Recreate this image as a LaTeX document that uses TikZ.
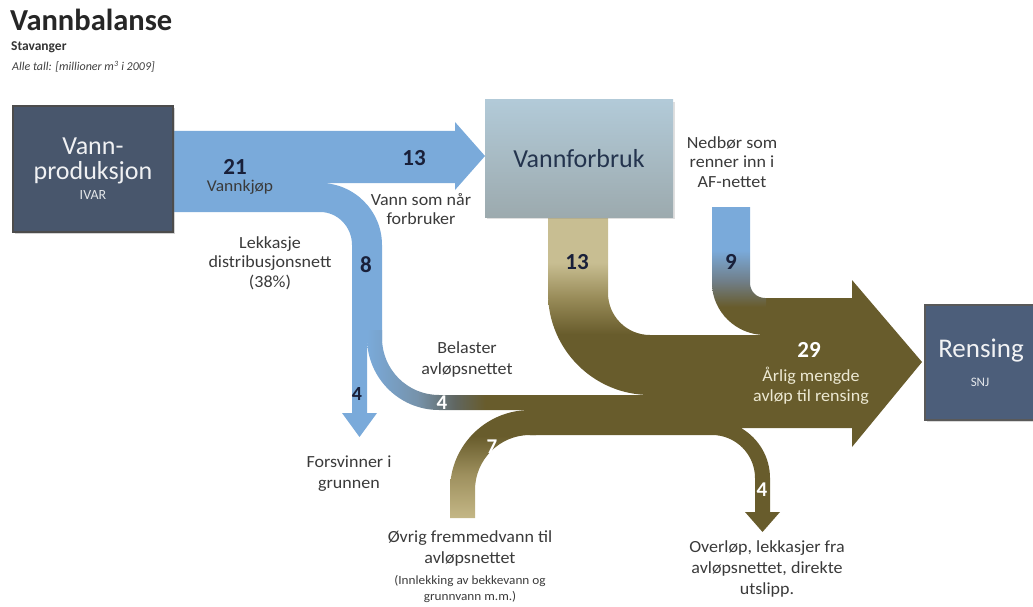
\documentclass[tikz,border=0pt]{standalone}
\usepackage{fontspec}
\setmainfont{Carlito}
\newfontfamily\lblfont{Carlito}[FakeStretch=1.06]
\usetikzlibrary{shadows}
\definecolor{flowblue}{RGB}{122,170,218}
\definecolor{flowolive}{RGB}{104,92,44}
\definecolor{flowkhaki}{RGB}{200,190,146}
\definecolor{kmidA}{RGB}{152,139,88}
\definecolor{ksevlow}{RGB}{196,183,134}
\definecolor{ksevmid}{RGB}{158,144,94}
\definecolor{ninemid}{RGB}{112,126,136}
\definecolor{fourmidA}{RGB}{118,146,170}
\definecolor{fourmidB}{RGB}{96,102,96}
\definecolor{boxdark}{RGB}{72,86,108}
\definecolor{boxren}{RGB}{76,94,122}
\definecolor{vfA}{RGB}{178,202,216}
\definecolor{vfB}{RGB}{156,170,174}
\definecolor{numnavy}{RGB}{25,32,58}
\definecolor{lblgray}{RGB}{58,58,58}
\definecolor{creamtxt}{RGB}{236,232,210}
\definecolor{vftxt}{RGB}{36,52,78}
\pgfdeclareverticalshading{shthirteen}{100bp}{color(0bp)=(flowolive); color(42bp)=(flowolive); color(52bp)=(kmidA); color(62bp)=(flowkhaki); color(100bp)=(flowkhaki)}
\pgfdeclareverticalshading{shseven}{100bp}{color(0bp)=(ksevlow); color(25bp)=(ksevlow); color(45bp)=(ksevmid); color(63bp)=(flowolive); color(100bp)=(flowolive)}
\pgfdeclareverticalshading{shnine}{100bp}{color(0bp)=(flowolive); color(36bp)=(flowolive); color(46bp)=(ninemid); color(58bp)=(flowblue); color(100bp)=(flowblue)}
\pgfdeclarehorizontalshading{shfour}{100bp}{color(0bp)=(flowblue); color(25bp)=(flowblue); color(40bp)=(fourmidA); color(51bp)=(fourmidB); color(60bp)=(flowolive); color(100bp)=(flowolive)}
\begin{document}
\begin{tikzpicture}[x=1pt,y=-1pt,
  lbl/.style={text=lblgray, align=center, inner sep=0pt, font=\lblfont\fontsize{17}{19.5}\selectfont},
  numd/.style={text=numnavy, inner sep=0pt, font=\bfseries\fontsize{23}{23}\selectfont},
  numw/.style={text=white, inner sep=0pt, font=\bfseries\fontsize{21}{21}\selectfont}]
\useasboundingbox (0,0) rectangle (1033,607);

% blue flow: 21 -> 13 and 8
\fill[flowblue] (173,131) -- (455,131) -- (455,122) -- (485,156) -- (455,190) -- (455,183) -- (320,183)
  .. controls (354.2,183) and (382,210.8) .. (382,245) -- (382,342) -- (367,342) -- (367,413) -- (377,413) -- (359.5,437) -- (342,413) -- (352,413) -- (352,245)
  .. controls (352,226.8) and (337.7,212) .. (320,212) -- (173,212) -- cycle;

% main wastewater flow
\fill[flowolive] (650,335) -- (765,335) -- (765,298) -- (852,298) -- (852,280) -- (922,362) -- (852,447) -- (852,428) -- (741,428)
  .. controls (758.9,438.4) and (770,457.3) .. (770,478) -- (770,512) -- (780,512) -- (762.5,532) -- (745,512) -- (755,512) -- (755,478)
  .. controls (755,454.3) and (735.7,435) .. (712,435) -- (530,435) -- (530,395) -- (650,395) -- cycle;

% 13 from consumption
\shade[shading=shthirteen] (548,216) -- (608,216) -- (608,293) .. controls (608,316.2) and (626.8,335) .. (650,335) -- (651,335) -- (651,395) -- (650,395) .. controls (593.7,395) and (548,349.3) .. (548,293) -- cycle;
% 9 precipitation
\shade[shading=shnine] (712,207) -- (750,207) -- (750,283) .. controls (750,291.3) and (756.7,298) .. (765,298) -- (766,298) -- (766,335) -- (765,335) .. controls (736.3,335) and (712,311.7) .. (712,283) -- cycle;
% 7 other infiltration
\shade[shading=shseven] (450,518) -- (450,490) .. controls (450,445.8) and (485.8,410) .. (530,410) -- (536,410) -- (536,435) -- (530,435) .. controls (499.6,435) and (475,459.6) .. (475,490) -- (475,518) -- cycle;
% 4 leakage into sewer
\shade[shading=shfour] (367,330) -- (382,330) -- (382,338) .. controls (382,369.5) and (407.5,395) .. (439,395) -- (536,395) -- (536,410) -- (439,410) .. controls (399.2,410) and (367,377.8) .. (367,338) -- cycle;

% boxes
\node[fill=boxdark, draw=black!70, line width=1.5pt, minimum width=160pt, minimum height=126pt, inner sep=0pt, drop shadow={opacity=0.35}] (prod) at (93,169) {};
\node[text=white!92!boxdark, align=center, inner sep=0pt, font=\fontsize{26}{24.5}\selectfont] (prodtxt) at (93,161) {Vann-\\produksjon};
\node[text=white!85!boxdark, inner sep=0pt, font=\fontsize{14}{14}\selectfont] (ivar) at (93,195) {IVAR};

\node[top color=vfA, bottom color=vfB, minimum width=188pt, minimum height=117pt, inner sep=0pt, text=vftxt, font=\fontsize{26}{26}\selectfont, drop shadow={opacity=0.25}] (forbruk) at (579,158.5) {Vannforbruk};

\node[fill=boxren, draw=black!65, line width=1.5pt, minimum width=110pt, minimum height=115pt, inner sep=0pt, drop shadow={opacity=0.3}] (rensing) at (980,362.5) {};
\node[text=white!92!boxren, inner sep=0pt, font=\fontsize{27}{27}\selectfont] (renstxt) at (981,351) {Rensing};
\node[text=white!85!boxren, inner sep=0pt, font=\fontsize{13}{13}\selectfont] (snj) at (980,382) {SNJ};

% titles
\node[font=\bfseries\fontsize{30.5}{31}\selectfont, text=black!85, anchor=base west, inner sep=0pt] (title) at (10,31) {Vannbalanse};
\node[font=\bfseries\fontsize{13.5}{14}\selectfont, text=black!80, anchor=base west, inner sep=0pt] (sub) at (11,51) {Stavanger};
\node[font=\itshape\fontsize{12}{12}\selectfont, text=black!75, anchor=base west, inner sep=0pt] (units) at (12,71) {Alle tall: [millioner m\textsuperscript{3} i 2009]};

% labels
\node[lbl, font=\lblfont\fontsize{16.5}{16.5}\selectfont] (lkjop) at (240,187) {Vannkjøp};
\node[lbl] (lvann) at (421,209) {Vann som når\\forbruker};
\node[lbl] (llek) at (270,263) {Lekkasje\\distribusjonsnett\\(38\%)};
\node[lbl] (lned) at (732,162) {Nedbør som\\renner inn i\\AF-nettet};
\node[lbl, font=\lblfont\fontsize{17}{21}\selectfont] (lbel) at (467,359) {Belaster\\avløpsnettet};
\node[lbl, font=\lblfont\fontsize{17}{21}\selectfont] (lfors) at (349,474) {Forsvinner i\\grunnen};
\node[lbl, text=creamtxt] (larlig) at (811,386) {Årlig mengde\\avløp til rensing};
\node[lbl, font=\lblfont\fontsize{17}{21}\selectfont] (lovrig) at (470,548) {Øvrig fremmedvann til\\avløpsnettet};
\node[lbl, font=\lblfont\fontsize{12.5}{15}\selectfont] (linn) at (470,589) {(Innlekking av bekkevann og\\grunnvann m.m.)};
\node[lbl, font=\lblfont\fontsize{17}{21}\selectfont] (lover) at (767,569) {Overløp, lekkasjer fra\\avløpsnettet, direkte\\utslipp.};

% numbers
\node[numd] (n21) at (235,167) {21};
\node[numd] (n13a) at (414,158) {13};
\node[numd] (n8) at (366,265) {8};
\node[numd] (n13b) at (577,262) {13};
\node[numd] (n9) at (731,262) {9};
\node[numd, font=\bfseries\fontsize{20}{20}\selectfont] (n4a) at (357,394) {4};
\node[numw] (n4b) at (442,403) {4};
\node[numw] (n7) at (492,447) {7};
\node[numw, font=\bfseries\fontsize{23}{23}\selectfont] (n29) at (809,350) {29};
\node[numw] (n4c) at (762,490) {4};
\end{tikzpicture}
\end{document}
